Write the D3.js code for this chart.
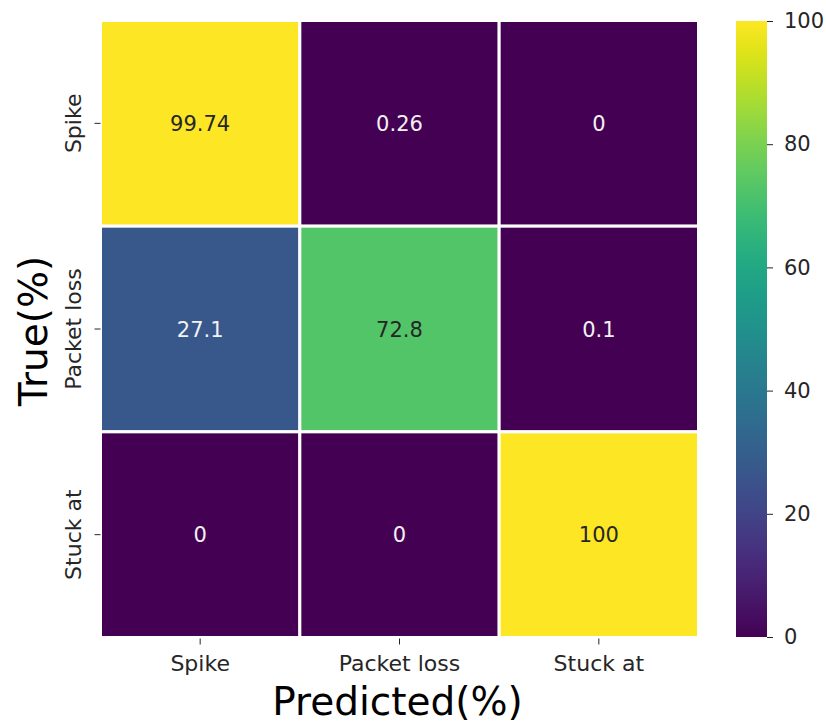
<!DOCTYPE html>
<html>
<head>
<meta charset="utf-8">
<script src="https://cdn.jsdelivr.net/npm/d3@7"></script>
<style>
  body { margin: 0; background: #fff; }
  text { font-family: "DejaVu Sans", sans-serif; }
</style>
</head>
<body>
<div id="chart"></div>
<script>
// confusion matrix, rows = true class, cols = predicted class (%)
var classes = ["Spike", "Packet loss", "Stuck at"];
var rowSpike = [99.74, 0.26, 0];
var rowPacketLoss = [27.1, 72.8, 0.1];
var rowStuckAt = [0, 0, 100];
var cbTicks = [0, 20, 40, 60, 80, 100];

var matrix = [rowSpike, rowPacketLoss, rowStuckAt];
var cells = [];
matrix.forEach(function (row, i) {
  row.forEach(function (v, j) {
    cells.push({ t: classes[i], p: classes[j], v: v });
  });
});

var W = 826, H = 723;
// cell borders are 3px white lines, so the grid box sits half a line outside the colour
var plot = { left: 100.5, top: 20.5, right: 698.5, bottom: 637.5 };
var svg = d3.select("#chart").append("svg")
  .attr("width", W)
  .attr("height", H);

var x = d3.scaleBand().domain(classes).range([plot.left, plot.right]);
var y = d3.scaleBand().domain(classes).range([plot.top, plot.bottom]);
var color = d3.scaleSequential(d3.interpolateViridis).domain([0, 100]);
var ink = "#262626";

// cells
svg.append("g").selectAll("rect")
  .data(cells)
  .enter().append("rect")
  .attr("x", function (d) { return x(d.p); })
  .attr("y", function (d) { return y(d.t); })
  .attr("width", x.bandwidth())
  .attr("height", y.bandwidth())
  .attr("fill", function (d) { return color(d.v); })
  .attr("stroke", "white")
  .attr("stroke-width", 3);

// annotations
svg.append("g").selectAll("text")
  .data(cells)
  .enter().append("text")
  .attr("x", function (d) { return x(d.p) + x.bandwidth() / 2; })
  .attr("y", function (d) { return y(d.t) + y.bandwidth() / 2; })
  .attr("text-anchor", "middle")
  .attr("dy", "0.36em")
  .style("font-size", "21px")
  .style("fill", function (d) {
    var c = d3.hsl(color(d.v));
    return c.l > 0.5 ? ink : "#f2f2f2";
  })
  .text(function (d) { return d.v; });

// axes
var xAxis = svg.append("g")
  .attr("transform", "translate(0," + (plot.bottom + 1) + ")")
  .call(d3.axisBottom(x).tickSize(6).tickPadding(11));
xAxis.select(".domain").remove();
xAxis.selectAll("line").attr("stroke", ink);
xAxis.selectAll("text").style("font-size", "22px").style("fill", ink)
  .style("font-family", "DejaVu Sans, sans-serif");

var yAxis = svg.append("g")
  .attr("transform", "translate(" + (plot.left) + ",0)")
  .call(d3.axisLeft(y).tickSize(6).tickPadding(10));
yAxis.select(".domain").remove();
yAxis.selectAll("line").attr("stroke", ink);
yAxis.selectAll("text")
  .style("font-size", "22px").style("fill", ink)
  .style("font-family", "DejaVu Sans, sans-serif")
  .attr("text-anchor", "middle")
  .attr("x", null).attr("dy", null)
  .attr("transform", "translate(-20,0) rotate(-90)");

// axis titles
svg.append("text")
  .attr("x", (plot.left + plot.right) / 2 - 2)
  .attr("y", 715)
  .attr("text-anchor", "middle")
  .style("font-size", "39px")
  .style("fill", "#000")
  .text("Predicted(%)");

svg.append("text")
  .attr("transform", "translate(47," + ((plot.top + plot.bottom) / 2 + 2) + ") rotate(-90)")
  .attr("text-anchor", "middle")
  .style("font-size", "39px")
  .style("fill", "#000")
  .text("True(%)");

// colorbar
var cb = { left: 736, width: 31, top: 21, bottom: 637 };
var defs = svg.append("defs");
var grad = defs.append("linearGradient")
  .attr("id", "viridis")
  .attr("x1", 0).attr("y1", 1).attr("x2", 0).attr("y2", 0);
d3.range(0, 1.0001, 0.05).forEach(function (t) {
  grad.append("stop")
    .attr("offset", t)
    .attr("stop-color", d3.interpolateViridis(t));
});
svg.append("rect")
  .attr("x", cb.left)
  .attr("y", cb.top)
  .attr("width", cb.width)
  .attr("height", cb.bottom - cb.top)
  .attr("fill", "url(#viridis)");

var cbScale = d3.scaleLinear().domain([0, 100]).range([cb.bottom, cb.top]);
var cbAxis = svg.append("g")
  .attr("transform", "translate(" + (cb.left + cb.width) + ",0)")
  .call(d3.axisRight(cbScale).tickValues(cbTicks).tickSize(6).tickPadding(11));
cbAxis.select(".domain").remove();
cbAxis.selectAll("line").attr("stroke", ink);
cbAxis.selectAll("text").style("font-size", "21px").style("fill", ink)
  .style("font-family", "DejaVu Sans, sans-serif");
</script>
</body>
</html>
